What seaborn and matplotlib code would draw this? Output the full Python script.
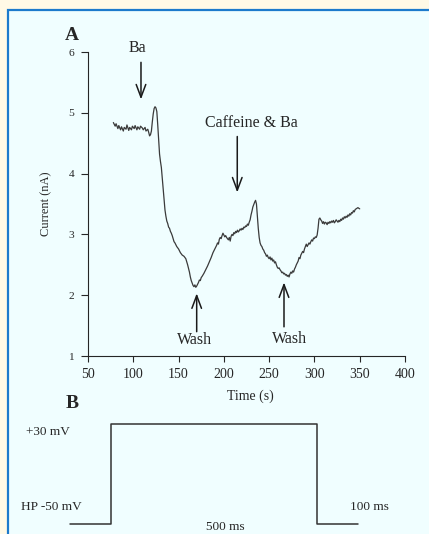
import matplotlib
matplotlib.use('Agg')
import matplotlib.pyplot as plt
import seaborn as sns
from matplotlib.patches import Rectangle

sns.set_theme(style='ticks')
plt.rcParams['font.family'] = ['Liberation Serif', 'DejaVu Serif']

# ---------------- data ----------------
time_s = [
    78, 80, 81, 83, 84, 86, 87, 89, 90, 92,
    93, 95, 96, 98, 99, 101, 102, 104, 105, 107,
    108, 110, 111, 113, 114, 116, 117, 118, 119, 120,
    121, 122, 123, 124, 125, 126, 127, 128, 129, 130,
    131, 132, 133, 134, 135, 136, 137, 138, 139, 140,
    141, 142, 143, 144, 145, 146, 148, 150, 152, 154,
    156, 157, 158, 159, 160, 161, 162, 163, 164, 165,
    166, 167, 168, 169, 170, 171, 172, 173, 174, 175,
    176, 178, 180, 182, 184, 186, 188, 190, 192, 193,
    194, 195, 196, 197, 198, 199, 200, 201, 202, 203,
    204, 205, 206, 207, 208, 209, 210, 211, 212, 213,
    214, 215, 216, 217, 218, 219, 220, 221, 222, 223,
    224, 225, 226, 227, 228, 229, 230, 231, 232, 233,
    234, 235, 236, 237, 238, 239, 240, 241, 242, 243,
    244, 245, 246, 247, 248, 249, 250, 251, 252, 253,
    254, 255, 256, 257, 258, 259, 260, 261, 262, 263,
    264, 265, 266, 267, 268, 269, 270, 271, 272, 273,
    274, 275, 276, 277, 278, 279, 280, 281, 282, 283,
    284, 285, 286, 287, 288, 289, 290, 291, 292, 293,
    294, 295, 296, 297, 298, 299, 300, 301, 302, 303,
    304, 305, 306, 307, 308, 309, 310, 311, 312, 313,
    314, 315, 316, 317, 318, 319, 320, 321, 322, 323,
    324, 325, 326, 327, 328, 329, 330, 331, 332, 333,
    334, 335, 336, 337, 338, 339, 340, 341, 342, 343,
    344, 345, 346, 347, 348, 349, 350,
]
current_nA = [
    4.84, 4.78, 4.82, 4.74, 4.79, 4.72, 4.77, 4.70, 4.76, 4.73,
    4.80, 4.71, 4.76, 4.72, 4.78, 4.74, 4.79, 4.72, 4.77, 4.73,
    4.78, 4.75, 4.72, 4.76, 4.70, 4.73, 4.68, 4.62, 4.64, 4.70,
    4.85, 4.98, 5.07, 5.10, 5.08, 5.02, 4.80, 4.55, 4.32, 4.20,
    4.10, 3.92, 3.72, 3.55, 3.40, 3.30, 3.22, 3.18, 3.12, 3.10,
    3.05, 3.02, 2.98, 2.93, 2.88, 2.86, 2.80, 2.76, 2.70, 2.66,
    2.64, 2.62, 2.60, 2.55, 2.50, 2.44, 2.38, 2.30, 2.24, 2.20,
    2.16, 2.14, 2.17, 2.13, 2.15, 2.18, 2.21, 2.25, 2.24, 2.29,
    2.31, 2.36, 2.42, 2.48, 2.55, 2.62, 2.70, 2.76, 2.82, 2.86,
    2.84, 2.92, 2.95, 2.93, 2.98, 3.02, 2.99, 2.96, 2.98, 2.95,
    2.93, 2.91, 2.95, 2.89, 2.97, 3.00, 2.98, 3.03, 3.01, 3.05,
    3.03, 3.07, 3.04, 3.06, 3.09, 3.07, 3.10, 3.08, 3.12, 3.11,
    3.14, 3.13, 3.17, 3.15, 3.20, 3.24, 3.32, 3.38, 3.45, 3.49,
    3.53, 3.56, 3.50, 3.30, 3.10, 2.95, 2.86, 2.82, 2.80, 2.76,
    2.74, 2.70, 2.68, 2.64, 2.66, 2.62, 2.60, 2.63, 2.58, 2.61,
    2.56, 2.58, 2.53, 2.55, 2.50, 2.46, 2.44, 2.45, 2.42, 2.40,
    2.37, 2.38, 2.35, 2.36, 2.33, 2.34, 2.31, 2.33, 2.30, 2.35,
    2.38, 2.36, 2.40, 2.38, 2.43, 2.46, 2.50, 2.53, 2.56, 2.62,
    2.60, 2.66, 2.69, 2.72, 2.70, 2.76, 2.80, 2.84, 2.80, 2.83,
    2.86, 2.84, 2.88, 2.91, 2.89, 2.94, 2.93, 2.96, 2.95, 2.99,
    3.10, 3.25, 3.27, 3.24, 3.22, 3.18, 3.21, 3.17, 3.20, 3.19,
    3.16, 3.20, 3.18, 3.21, 3.19, 3.22, 3.20, 3.23, 3.19, 3.21,
    3.24, 3.22, 3.20, 3.23, 3.21, 3.25, 3.23, 3.27, 3.25, 3.29,
    3.27, 3.30, 3.28, 3.32, 3.30, 3.34, 3.32, 3.36, 3.35, 3.39,
    3.37, 3.41, 3.42, 3.43, 3.44, 3.43, 3.42,
]
x_ticks = [50, 100, 150, 200, 250, 300, 350, 400]
y_ticks = [1, 2, 3, 4, 5, 6]

event_labels = ['Ba', 'Caffeine & Ba', 'Wash', 'Wash']

pulse_time_ms = [0, 100, 100, 600, 600, 700]
pulse_mV = [-50, -50, 30, 30, -50, -50]

# ---------------- figure ----------------
W, H = 429, 534
fig = plt.figure(figsize=(W / 100, H / 100), dpi=100, facecolor='#FFF9E6')
fig.patches.append(Rectangle((8 / W, -0.1), 1.2, (H - 10.5) / H + 0.1,
                             transform=fig.transFigure, facecolor='#F0FEFF',
                             edgecolor='#1C7ACC', lw=1.6, zorder=-5))

ink = '#262626'

# Panel A
ax = fig.add_axes([88 / W, (H - 356) / H, 317 / W, 304 / H])
ax.set_facecolor('none')
sns.lineplot(x=time_s, y=current_nA, ax=ax, color='#3a3a3a', lw=0.9,
             estimator=None, sort=False)
ax.set_xlim(50, 400)
ax.set_ylim(1, 6)
ax.set_xticks(x_ticks)
ax.set_yticks(y_ticks)
ax.set_xticklabels([str(v) for v in x_ticks], fontsize=10)
ax.set_yticklabels([str(v) for v in y_ticks], fontsize=8.2)
ax.tick_params(axis='y', length=5, width=0.8, pad=5, colors=ink)
ax.tick_params(axis='x', length=4.5, width=0.8, pad=4, colors=ink)
sns.despine(ax=ax)
for s in ['left', 'bottom']:
    ax.spines[s].set_linewidth(0.8)
    ax.spines[s].set_color(ink)
ax.grid(False)
ax.set_xlabel('Time (s)', fontsize=10, color=ink)
ax.xaxis.set_label_coords((250 - 88) / 317, (356 - 390) / 304)
ax.set_ylabel('Current (nA)', fontsize=9, color=ink)
ax.yaxis.set_label_coords((52 - 88) / 317, 0.5)

arrow = dict(arrowstyle='->, head_length=0.8, head_width=0.3', lw=1.1,
             color='#1a1a1a', shrinkA=0, shrinkB=0)
# Ba
ax.annotate('', xy=(108.5, 5.22), xytext=(108.5, 5.83), arrowprops=arrow,
            fontsize=11.5)
ax.text(104, 6.00, event_labels[0], ha='center', va='baseline', fontsize=11.5,
        color=ink)
# Caffeine & Ba
ax.annotate('', xy=(214.8, 3.69), xytext=(214.8, 4.61), arrowprops=arrow,
            fontsize=11.5)
ax.text(230, 4.76, event_labels[1], ha='center', va='baseline', fontsize=11.5,
        color=ink)
# Wash 1
ax.annotate('', xy=(170, 2.03), xytext=(170, 1.40), arrowprops=arrow,
            fontsize=11.5)
ax.text(168, 1.19, event_labels[2], ha='center', va='baseline', fontsize=11.5,
        color=ink)
# Wash 2
ax.annotate('', xy=(266.4, 2.21), xytext=(266.4, 1.48), arrowprops=arrow,
            fontsize=11.5)
ax.text(272.4, 1.21, event_labels[3], ha='center', va='baseline', fontsize=11.5,
        color=ink)

fig.text(72 / W, 1 - 35 / H, 'A', ha='center', va='center', fontsize=14,
         fontweight='bold', color=ink)
fig.text(72 / W, 1 - 403 / H, 'B', ha='center', va='center', fontsize=14,
         fontweight='bold', color=ink)

# Panel B
axb = fig.add_axes([70 / W, (H - 524) / H, 288 / W, 100 / H])
axb.set_facecolor('none')
sns.lineplot(x=pulse_time_ms, y=pulse_mV, ax=axb, color='#333333', lw=1.1,
             estimator=None, sort=False)
for ln in axb.lines:
    ln.set_clip_on(False)
axb.set_xlim(0, 700)
axb.set_ylim(-50, 30)
axb.axis('off')
axb.text(-53.5, 23.6, '+30 mV', ha='center', va='center', fontsize=9.5,
         color=ink)
axb.text(-46, -36.2, 'HP -50 mV', ha='center', va='center', fontsize=9.5,
         color=ink)
axb.text(727, -36.2, '100 ms', ha='center', va='center', fontsize=9.5,
         color=ink)
fig.text(225 / W, 0.5 / H, '500 ms', ha='center', va='bottom', fontsize=9.5,
         color=ink)

fig.savefig('out.png', dpi=100, facecolor=fig.get_facecolor())
